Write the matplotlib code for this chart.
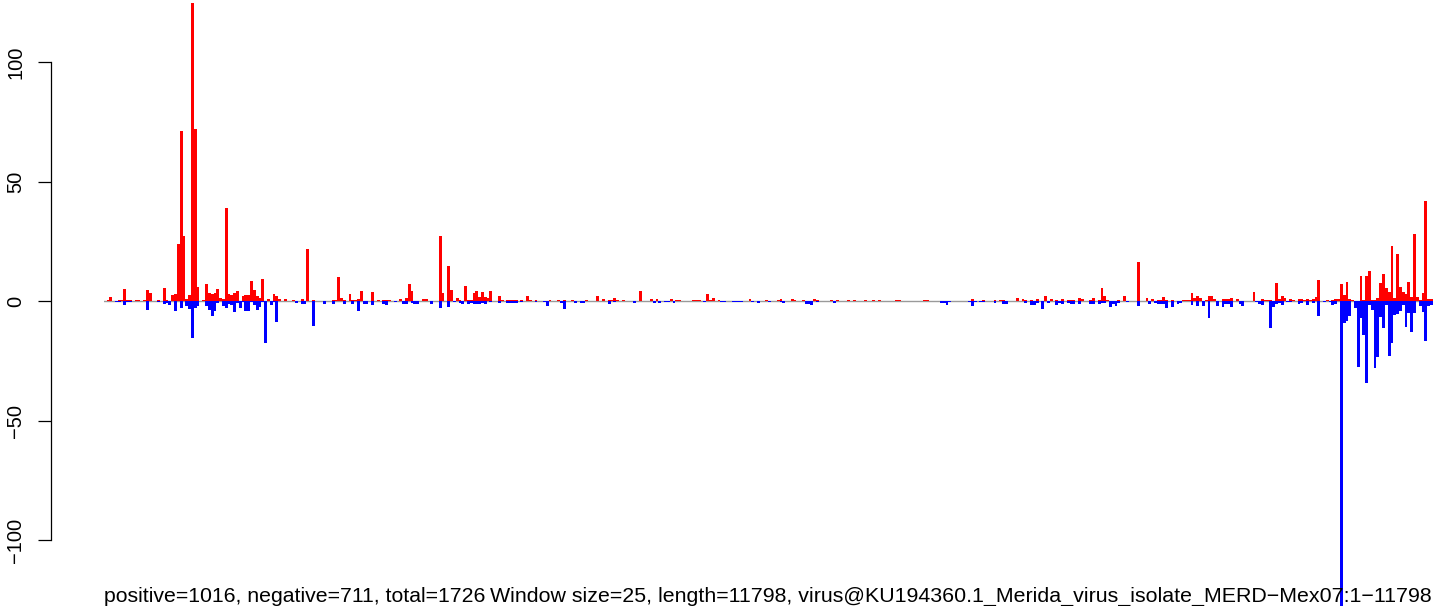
import numpy as np
import matplotlib
matplotlib.use("Agg")
import matplotlib.pyplot as plt

# ---- data -------------------------------------------------------------
window_size = 25
seq_length = 11798
n_windows = 472

# positive-strand windows (window index, value)
pos_window = [1, 2, 5, 6, 7, 8, 9, 11, 12, 14, 15, 16, 19, 21, 22, 24, 25, 26, 27, 28,
              29, 30, 31, 32, 33, 35, 36, 37, 38, 39, 40, 41, 42, 43, 44, 45, 46, 47, 49, 50,
              51, 52, 53, 54, 55, 56, 58, 60, 61, 62, 64, 67, 70, 72, 74, 81, 82, 83, 84, 85,
              87, 88, 89, 90, 91, 95, 97, 99, 100, 101, 105, 107, 108, 109, 113, 114, 119, 120, 122, 123,
              125, 126, 128, 129, 130, 131, 132, 133, 134, 135, 136, 137, 140, 141, 143, 144, 145, 146, 148, 150,
              151, 153, 158, 161, 163, 166, 171, 175, 176, 177, 179, 180, 181, 182, 184, 190, 194, 196, 201, 203,
              204, 209, 210, 211, 214, 215, 216, 218, 227, 229, 235, 239, 240, 244, 245, 248, 252, 253, 258, 260,
              264, 266, 270, 273, 275, 281, 282, 291, 292, 307, 308, 312, 313, 316, 318, 319, 324, 326, 327, 329,
              331, 334, 336, 338, 340, 342, 343, 344, 346, 347, 350, 351, 353, 354, 355, 356, 360, 362, 367, 370,
              372, 374, 375, 376, 377, 379, 382, 383, 384, 385, 386, 387, 388, 389, 391, 392, 393, 394, 397, 398,
              399, 400, 402, 408, 411, 412, 413, 414, 416, 417, 418, 419, 421, 422, 424, 425, 426, 427, 428, 429,
              430, 431, 434, 436, 437, 438, 439, 440, 441, 442, 443, 446, 447, 448, 449, 450, 451, 452, 453, 454,
              455, 456, 457, 458, 459, 460, 461, 462, 463, 464, 465, 466, 467, 468, 469, 470, 471]
pos_value = [0.5, 1.7, 0.4, 0.4, 5.0, 0.4, 0.4, 0.4, 0.4, 0.4, 4.6, 3.3, 0.4, 5.4, 0.4, 2.5, 3.0, 23.8, 71.0, 27.2,
             0.8, 2.5, 124.7, 72.0, 5.9, 0.4, 7.1, 3.3, 3.0, 3.3, 5.0, 1.3, 0.8, 38.9, 3.0, 2.5, 3.3, 4.2, 2.0, 2.5,
             2.5, 8.4, 4.6, 2.0, 1.3, 9.2, 0.8, 3.0, 2.0, 0.8, 0.8, 0.6, 0.8, 22.0, 0.4, 0.5, 0.5, 10.0, 1.3, 0.4,
             3.0, 0.4, 0.4, 0.8, 4.2, 3.8, 0.4, 0.4, 0.4, 0.3, 0.8, 1.3, 7.1, 4.2, 0.8, 0.8, 27.2, 3.3, 14.6, 4.6,
             1.3, 0.4, 6.3, 0.4, 0.4, 3.3, 4.2, 1.7, 3.8, 1.7, 1.2, 4.2, 2.1, 0.3, 0.4, 0.4, 0.4, 0.4, 0.4, 2.1,
             0.3, 0.3, 0.3, 0.4, 0.4, 0.4, 0.4, 2.1, 0.2, 0.8, 0.4, 0.4, 1.3, 0.3, 0.4, 4.2, 0.8, 0.8, 0.8, 0.4,
             0.4, 0.3, 0.3, 0.4, 2.9, 0.4, 1.3, 0.4, 0.2, 0.8, 0.3, 0.4, 0.8, 0.8, 0.3, 0.4, 0.8, 0.4, 0.3, 0.3,
             0.4, 0.4, 0.3, 0.4, 0.4, 0.3, 0.4, 0.4, 0.3, 0.2, 0.8, 0.3, 0.2, 0.4, 0.4, 0.4, 1.3, 0.8, 0.4, 0.4,
             0.8, 2.1, 0.8, 0.4, 0.8, 0.4, 0.4, 0.4, 1.3, 0.8, 0.4, 1.3, 0.4, 5.4, 2.1, 0.4, 0.4, 2.1, 16.3, 1.3,
             0.8, 0.4, 0.4, 1.7, 0.4, 0.4, 0.2, 0.4, 0.4, 0.4, 3.3, 1.3, 2.1, 1.3, 0.4, 2.1, 2.1, 0.8, 0.8, 0.8,
             1.1, 1.3, 0.8, 3.8, 1.1, 0.4, 0.4, 0.4, 7.5, 0.8, 2.1, 1.3, 1.1, 0.4, 0.8, 0.8, 0.4, 1.1, 0.4, 0.8,
             1.7, 8.8, 0.4, 0.4, 0.8, 0.9, 7.2, 2.6, 8.0, 0.9, 0.4, 10.5, 0.5, 10.5, 12.6, 0.4, 0.5, 1.3, 7.6, 11.3,
             5.5, 3.8, 23.0, 1.3, 19.7, 6.0, 3.8, 3.0, 8.0, 1.8, 28.2, 1.8, 0.4, 3.4, 41.9, 0.9, 0.9]

# negative-strand windows (window index, value)
neg_window = [4, 5, 7, 8, 9, 15, 19, 21, 22, 23, 25, 27, 29, 30, 31, 32, 33, 36, 37, 38,
              39, 40, 42, 43, 44, 45, 46, 47, 48, 49, 50, 51, 52, 53, 54, 55, 56, 57, 59, 60,
              61, 68, 70, 71, 74, 78, 81, 85, 88, 90, 92, 93, 95, 99, 100, 103, 106, 107, 109, 110,
              111, 116, 119, 122, 124, 126, 127, 129, 130, 131, 132, 133, 134, 135, 137, 140, 143, 144, 145, 146,
              148, 153, 156, 157, 162, 163, 167, 169, 170, 179, 181, 188, 195, 197, 199, 200, 202, 213, 219, 220,
              223, 224, 225, 226, 230, 232, 236, 240, 241, 249, 250, 251, 253, 259, 297, 298, 299, 300, 307, 308,
              309, 311, 312, 316, 319, 320, 327, 329, 330, 331, 333, 335, 338, 339, 340, 342, 343, 344, 346, 350,
              351, 353, 354, 355, 357, 358, 359, 360, 363, 367, 371, 373, 374, 375, 376, 377, 379, 381, 382, 386,
              388, 390, 392, 395, 397, 398, 399, 400, 403, 404, 409, 410, 411, 414, 415, 416, 417, 418, 420, 421,
              424, 425, 427, 429, 431, 433, 435, 436, 437, 439, 440, 441, 442, 444, 445, 446, 447, 448, 449, 450,
              451, 452, 453, 454, 455, 456, 457, 458, 459, 460, 461, 462, 463, 464, 465, 467, 468, 469, 470, 471]
neg_value = [-0.3, -0.3, -1.5, -0.5, -0.5, -3.6, -0.5, -1.0, -0.7, -1.5, -4.0, -2.8, -2.0, -3.2, -15.3, -2.8, -2.0, -2.0, -3.6, -6.1,
             -4.0, -0.7, -2.0, -2.8, -1.0, -1.5, -4.5, -0.7, -2.8, -0.5, -4.0, -4.0, -0.5, -1.5, -3.6, -2.4, -0.5, -17.4, -1.5, -0.5,
             -8.6, -0.7, -1.0, -1.0, -10.5, -1.0, -1.0, -1.0, -1.0, -4.2, -1.0, -1.0, -1.7, -1.0, -1.7, -0.5, -1.3, -1.3, -0.7, -1.0,
             -1.0, -1.0, -2.9, -2.5, -0.5, -0.7, -1.0, -1.3, -0.7, -1.3, -1.3, -1.0, -0.7, -1.0, -0.5, -0.7, -0.7, -0.8, -0.8, -0.8,
             -0.4, -0.3, -0.4, -2.1, -0.7, -3.3, -0.8, -0.8, -0.8, -1.3, -0.4, -0.8, -0.8, -0.8, -0.4, -0.4, -0.8, -0.4, -0.4, -0.4,
             -0.4, -0.4, -0.4, -0.4, -0.3, -0.8, -0.3, -0.4, -0.8, -1.0, -1.0, -1.7, -0.4, -0.8, -0.8, -0.8, -1.7, -0.3, -0.4, -2.1,
             -0.4, -0.3, -0.3, -0.8, -1.3, -1.3, -0.8, -1.7, -1.7, -0.8, -3.3, -0.8, -1.7, -0.8, -1.3, -0.8, -1.3, -1.3, -1.3, -1.3,
             -1.3, -1.3, -0.8, -0.8, -2.5, -1.3, -2.1, -0.8, -0.4, -2.1, -1.3, -0.8, -1.3, -1.3, -1.3, -2.9, -2.5, -1.3, -0.8, -1.7,
             -2.1, -2.1, -7.1, -2.1, -2.5, -1.3, -1.0, -2.5, -1.0, -2.1, -0.4, -1.0, -1.7, -11.3, -2.5, -1.3, -0.8, -1.7, -0.4, -0.4,
             -1.3, -0.8, -1.7, -0.8, -6.3, -0.4, -0.4, -1.5, -1.0, -140.0, -9.0, -8.3, -6.2, -2.8, -27.5, -7.0, -14.0, -34.0, -1.6, -3.7,
             -28.0, -23.3, -6.6, -11.2, -1.6, -22.9, -17.5, -5.8, -5.3, -4.0, -1.6, -10.8, -4.9, -12.8, -4.9, -2.0, -4.5, -16.5, -2.0, -1.6]

yticks = [-100, -50, 0, 50, 100]
caption_left = "positive=1016, negative=711, total=1726"
caption_right = ("Window size=25, length=11798, "
                 "virus@KU194360.1_Merida_virus_isolate_MERD\u2212Mex07:1\u221211798")

# ---- build series ----------------------------------------------------
pos = np.zeros(n_windows)
neg = np.zeros(n_windows)
pos[pos_window] = pos_value
neg[neg_window] = neg_value
x = np.arange(n_windows)

# ---- figure ----------------------------------------------------------
plt.rcParams['font.family'] = ['Liberation Sans', 'DejaVu Sans']
W, H = 1436, 606
fig = plt.figure(figsize=(W / 100, H / 100), dpi=100)
left_px, right_px = 103.7, 1432.8
ax = fig.add_axes([left_px / W, 0, (right_px - left_px) / W, 1])
ax.set_xlim(0, n_windows)
ax.set_ylim(-127.4, 125.9)

ax.axhline(0, color='#9a9a9a', lw=1.0, zorder=1)
ax.bar(x, pos, width=1.0, align='edge', color='#ff0000', linewidth=0,
       antialiased=False, zorder=2)
ax.bar(x, neg, width=1.0, align='edge', color='#0000ff', linewidth=0,
       antialiased=False, zorder=2)

for s in ('top', 'right', 'bottom'):
    ax.spines[s].set_visible(False)
ax.spines['left'].set_position(('outward', 53 * 0.72))
ax.spines['left'].set_bounds(-100, 100)
ax.spines['left'].set_linewidth(0.9)
ax.set_xticks([])
ax.set_yticks(yticks)
ax.set_yticklabels([str(v).replace('-', '\u2212') for v in yticks],
                   rotation=90, va='center')
ax.tick_params(axis='y', direction='out', length=9.4, width=0.9, pad=9,
               labelsize=14.5, colors='black')
ax.patch.set_alpha(0)

fig.text(104 / W, (H - 602) / H, caption_left, ha='left', va='baseline',
         fontsize=15.3, color='black')
fig.text(1432 / W, (H - 602) / H, caption_right, ha='right', va='baseline',
         fontsize=15.4, color='black')

fig.savefig('out.png', dpi=100, facecolor='white')
